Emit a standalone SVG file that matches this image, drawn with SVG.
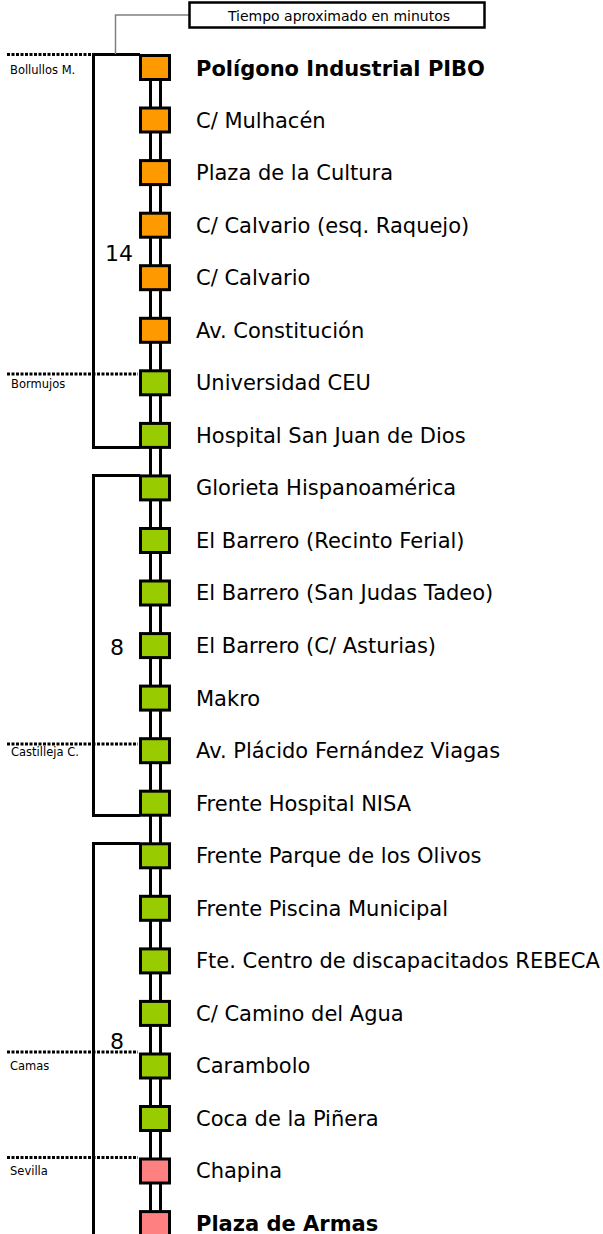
<svg xmlns="http://www.w3.org/2000/svg" width="603" height="1234" viewBox="0 0 603 1234">
<style>
.sq{stroke:#000;stroke-width:3}
.o{fill:#FF9900}.g{fill:#99CC00}.p{fill:#FF8080}
.lbl{font-family:"DejaVu Sans",Verdana,sans-serif;font-size:21px;fill:#000}
.b{font-weight:bold}
.town{font-family:"DejaVu Sans",Verdana,sans-serif;font-size:11.5px;fill:#000}
.num{font-family:"DejaVu Sans",Verdana,sans-serif;font-size:22px;fill:#000}
.br{fill:none;stroke:#000;stroke-width:3}
.dot{fill:none;stroke:#000;stroke-width:3;stroke-dasharray:3 1.5}
</style>
<rect width="603" height="1234" fill="#fff"/>
<g id="connectors">
<line x1="150.5" y1="54" x2="150.5" y2="1234" stroke="#000" stroke-width="3"/>
<line x1="160.5" y1="54" x2="160.5" y2="1234" stroke="#000" stroke-width="3"/>
<path class="br" d="M140,54.5 H93.5 V447.5 H140"/>
<path class="br" d="M140,475.5 H93.5 V815.5 H140"/>
<path class="br" d="M140,843.5 H93.5 V1234"/>
<path d="M189,15 H115.5 V54" fill="none" stroke="#808080" stroke-width="1.5"/>
<path class="dot" d="M7,54.5 H92"/>
<path class="dot" d="M7,374 H138"/>
<path class="dot" d="M7,744 H138"/>
<path class="dot" d="M7,1052 H138"/>
<path class="dot" d="M7,1157.5 H138"/>
</g>
<g id="legend">
<rect x="189.5" y="2.5" width="295" height="25" fill="#fff" stroke="#000" stroke-width="2.5"/>
<text x="339" y="20.5" text-anchor="middle" font-family="DejaVu Sans,Verdana,sans-serif" font-size="14">Tiempo aproximado en minutos</text>
</g>
<g id="towns">
<text class="town" x="10" y="74">Bollullos M.</text>
<text class="town" x="11" y="388">Bormujos</text>
<text class="town" x="11" y="756">Castilleja C.</text>
<text class="town" x="10" y="1070">Camas</text>
<text class="town" x="10" y="1175">Sevilla</text>
</g>
<g id="times">
<text class="num" x="105" y="260.5">14</text>
<text class="num" x="110" y="655">8</text>
<text class="num" x="110" y="1049">8</text>
</g>
<g id="s0"><rect class="sq o" x="140.5" y="55.5" width="29" height="24"/><text class="lbl b" x="196" y="75.5">Polígono Industrial PIBO</text></g>
<g id="s1"><rect class="sq o" x="140.5" y="108" width="29" height="24"/><text class="lbl" x="196" y="127.5">C/ Mulhacén</text></g>
<g id="s2"><rect class="sq o" x="140.5" y="160.6" width="29" height="24"/><text class="lbl" x="196" y="180">Plaza de la Cultura</text></g>
<g id="s3"><rect class="sq o" x="140.5" y="213.2" width="29" height="24"/><text class="lbl" x="196" y="232.5">C/ Calvario (esq. Raquejo)</text></g>
<g id="s4"><rect class="sq o" x="140.5" y="265.7" width="29" height="24"/><text class="lbl" x="196" y="285">C/ Calvario</text></g>
<g id="s5"><rect class="sq o" x="140.5" y="318.3" width="29" height="24"/><text class="lbl" x="196" y="337.5">Av. Constitución</text></g>
<g id="s6"><rect class="sq g" x="140.5" y="370.8" width="29" height="24"/><text class="lbl" x="196" y="390">Universidad CEU</text></g>
<g id="s7"><rect class="sq g" x="140.5" y="423.4" width="29" height="24"/><text class="lbl" x="196" y="442.5">Hospital San Juan de Dios</text></g>
<g id="s8"><rect class="sq g" x="140.5" y="475.9" width="29" height="24"/><text class="lbl" x="196" y="495">Glorieta Hispanoamérica</text></g>
<g id="s9"><rect class="sq g" x="140.5" y="528.5" width="29" height="24"/><text class="lbl" x="196" y="547.5">El Barrero (Recinto Ferial)</text></g>
<g id="s10"><rect class="sq g" x="140.5" y="581" width="29" height="24"/><text class="lbl" x="196" y="600">El Barrero (San Judas Tadeo)</text></g>
<g id="s11"><rect class="sq g" x="140.5" y="633.6" width="29" height="24"/><text class="lbl" x="196" y="653">El Barrero (C/ Asturias)</text></g>
<g id="s12"><rect class="sq g" x="140.5" y="686.1" width="29" height="24"/><text class="lbl" x="196" y="705.5">Makro</text></g>
<g id="s13"><rect class="sq g" x="140.5" y="738.7" width="29" height="24"/><text class="lbl" x="196" y="758">Av. Plácido Fernández Viagas</text></g>
<g id="s14"><rect class="sq g" x="140.5" y="791.2" width="29" height="24"/><text class="lbl" x="196" y="810.5">Frente Hospital NISA</text></g>
<g id="s15"><rect class="sq g" x="140.5" y="843.8" width="29" height="24"/><text class="lbl" x="196" y="863">Frente Parque de los Olivos</text></g>
<g id="s16"><rect class="sq g" x="140.5" y="896.3" width="29" height="24"/><text class="lbl" x="196" y="915.5">Frente Piscina Municipal</text></g>
<g id="s17"><rect class="sq g" x="140.5" y="948.9" width="29" height="24"/><text class="lbl" x="196" y="967.5">Fte. Centro de discapacitados REBECA</text></g>
<g id="s18"><rect class="sq g" x="140.5" y="1001.4" width="29" height="24"/><text class="lbl" x="196" y="1020.5">C/ Camino del Agua</text></g>
<g id="s19"><rect class="sq g" x="140.5" y="1054" width="29" height="24"/><text class="lbl" x="196" y="1073">Carambolo</text></g>
<g id="s20"><rect class="sq g" x="140.5" y="1106.5" width="29" height="24"/><text class="lbl" x="196" y="1125.5">Coca de la Piñera</text></g>
<g id="s21"><rect class="sq p" x="140.5" y="1159" width="29" height="24"/><text class="lbl" x="196" y="1178">Chapina</text></g>
<g id="s22"><rect class="sq p" x="140.5" y="1211.6" width="29" height="24"/><text class="lbl b" x="196" y="1230.5">Plaza de Armas</text></g>
</svg>
